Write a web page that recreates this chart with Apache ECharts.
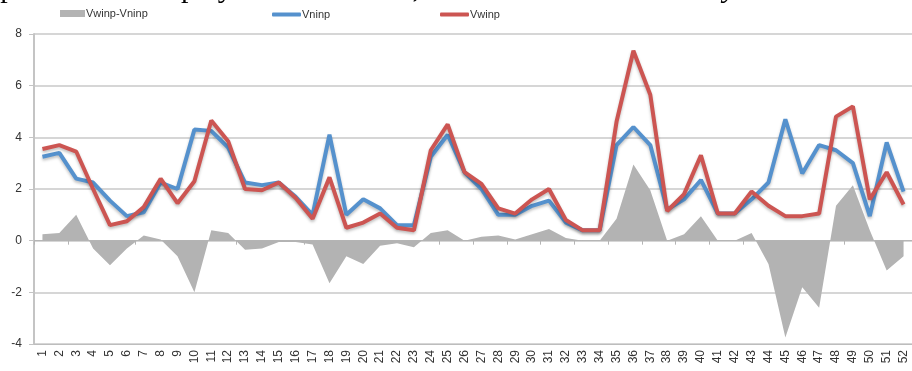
<!DOCTYPE html>
<html>
<head>
<meta charset="utf-8">
<script src="https://cdn.jsdelivr.net/npm/echarts@6/dist/echarts.min.js"></script>
<style>html,body{margin:0;padding:0;background:#fff;}#c{width:912px;height:371px;}</style>
</head>
<body>
<div id="c"></div>
<script>
var categories = [];
for (var i = 1; i <= 52; i++) categories.push(String(i));
var yTicks = [-4, -2, 0, 2, 4, 6, 8];
var diffName = 'Vwinp-Vninp';
var diff = [0.25,0.3,1.0,-0.3,-0.95,-0.3,0.2,0.05,-0.6,-2.0,0.4,0.3,-0.35,-0.3,-0.05,-0.05,-0.15,-1.65,-0.6,-0.9,-0.2,-0.1,-0.25,0.3,0.4,0.0,0.15,0.2,0.05,0.25,0.45,0.1,0.0,0.0,0.85,2.95,1.95,0.0,0.25,0.95,0.0,0.0,0.3,-0.9,-3.75,-1.8,-2.6,1.35,2.15,0.4,-1.15,-0.6];
var vninpName = 'Vninp';
var vninp = [3.25,3.4,2.4,2.25,1.55,0.95,1.1,2.25,2.0,4.3,4.25,3.6,2.25,2.15,2.25,1.7,1.0,4.1,1.0,1.6,1.25,0.6,0.6,3.25,4.1,2.65,2.0,1.0,1.0,1.35,1.55,0.7,0.4,0.4,3.7,4.4,3.7,1.2,1.6,2.35,1.05,1.05,1.6,2.25,4.7,2.6,3.7,3.5,3.0,0.95,3.8,1.9];
var vwinpName = 'Vwinp';
var vwinp = [3.55,3.7,3.45,2.0,0.6,0.75,1.3,2.4,1.45,2.3,4.65,3.85,2.0,1.95,2.25,1.65,0.85,2.45,0.5,0.7,1.05,0.5,0.4,3.5,4.5,2.65,2.2,1.25,1.05,1.6,2.0,0.8,0.4,0.4,4.6,7.35,5.65,1.15,1.8,3.3,1.05,1.05,1.9,1.35,0.95,0.95,1.05,4.8,5.2,1.6,2.65,1.4];

var chart = echarts.init(document.getElementById('c'), null, {renderer: 'canvas'});
var txt = {color: '#333', fontSize: 11, fontFamily: 'Liberation Sans'};
function legend(name, left, w, h, icon, top) {
  return {data: [{name: name, icon: icon}], left: left, top: top, itemWidth: w, itemHeight: h, itemGap: 0,
          textStyle: Object.assign({padding: [0,0,0,-4]}, txt), padding: 0, selectedMode: false};
}
chart.setOption({
  animation: false,
  graphic: [{
    type: 'text', right: 112, top: -26,
    style: {
      text: '{n|landscape units are displayed in the }{i|x axis}{n|, and the variations in the }{i|y axis}{n|.}',
      rich: {
        n: {fontFamily: 'Liberation Serif', fontSize: 30, color: '#000'},
        i: {fontFamily: 'Liberation Serif', fontStyle: 'italic', fontSize: 30, color: '#000'}
      }
    }
  }],
  legend: [
    legend(diffName, 60, 25, 7, 'rect', 8),
    legend(vninpName, 272, 29, 4, 'roundRect', 9),
    legend(vwinpName, 440, 29, 4, 'roundRect', 9)
  ],
  grid: {left: 34, right: 0, top: 34, bottom: 27, containLabel: false},
  xAxis: [{
    type: 'category', data: categories, boundaryGap: true, position: 'bottom',
    axisLine: {onZero: false, lineStyle: {color: '#bdbdbd', width: 1}},
    axisTick: {show: false},
    axisLabel: Object.assign({rotate: 90, margin: 6, interval: 0}, txt, {fontSize: 12}),
    splitLine: {show: false}
  }, {
    type: 'category', data: categories, boundaryGap: true, position: 'bottom',
    axisLine: {onZero: true, lineStyle: {color: '#b5b5b5', width: 1}},
    axisTick: {show: true, length: 4, lineStyle: {color: '#b5b5b5'}},
    axisLabel: {show: false},
    splitLine: {show: false}
  }],
  yAxis: {
    type: 'value', min: yTicks[0], max: yTicks[yTicks.length - 1], interval: 2,
    axisLine: {show: true, lineStyle: {color: '#c4c4c4', width: 2}},
    axisTick: {show: true, length: 5, lineStyle: {color: '#c4c4c4'}},
    axisLabel: Object.assign({margin: 12}, txt, {fontSize: 12}),
    splitLine: {show: true, lineStyle: {color: '#c8c8c8', width: 1.5}}
  },
  series: [{
    name: diffName, type: 'line', data: diff, symbol: 'none', xAxisIndex: 0,
    lineStyle: {width: 0}, itemStyle: {color: '#b3b3b3'},
    areaStyle: {color: '#b3b3b3', opacity: 1, origin: 0}
  }, {
    name: vninpName, type: 'line', data: vninp, symbol: 'none', xAxisIndex: 0,
    itemStyle: {color: '#5591cd'},
    lineStyle: {width: 4, color: '#5591cd', shadowColor: 'rgba(0,0,0,0.25)', shadowBlur: 3, shadowOffsetY: 2}
  }, {
    name: vwinpName, type: 'line', data: vwinp, symbol: 'none', xAxisIndex: 0,
    itemStyle: {color: '#cc5552'},
    lineStyle: {width: 4, color: '#cc5552', shadowColor: 'rgba(0,0,0,0.25)', shadowBlur: 3, shadowOffsetY: 2}
  }]
});
</script>
</body>
</html>
